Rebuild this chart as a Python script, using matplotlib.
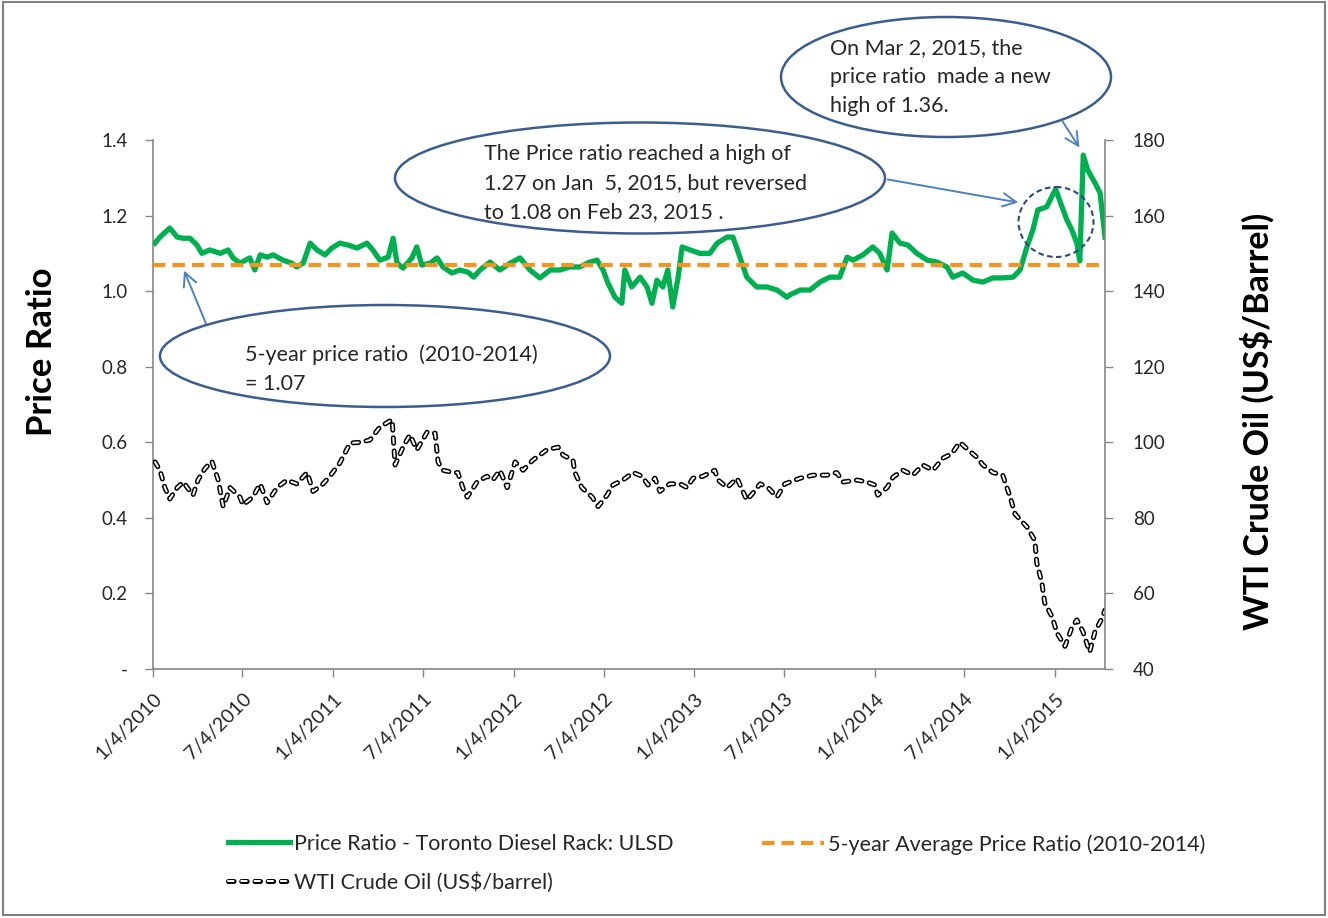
import pandas as pd
import matplotlib
matplotlib.use("Agg")
import matplotlib.pyplot as plt
from matplotlib.patches import Ellipse, Rectangle
from matplotlib.lines import Line2D

plt.rcParams['font.family'] = ['Lato', 'DejaVu Sans']
plt.rcParams['lines.scale_dashes'] = False

# price ratio (Toronto diesel rack / ULSD)
ratio_dates = [
    '2010-01-08', '2010-01-18', '2010-02-07', '2010-02-22', '2010-03-06', '2010-03-20',
    '2010-04-03', '2010-04-13', '2010-04-29', '2010-05-20', '2010-06-05', '2010-06-15',
    '2010-06-29', '2010-07-19', '2010-07-29', '2010-08-09', '2010-08-23', '2010-09-04',
    '2010-09-24', '2010-10-12', '2010-10-22', '2010-11-04', '2010-11-18', '2010-12-02',
    '2010-12-18', '2011-01-01', '2011-01-17', '2011-02-03', '2011-02-21', '2011-03-13',
    '2011-03-25', '2011-04-08', '2011-04-25', '2011-05-05', '2011-05-13', '2011-05-25',
    '2011-06-12', '2011-06-22', '2011-07-02', '2011-07-19', '2011-08-02', '2011-08-14',
    '2011-09-01', '2011-09-17', '2011-10-04', '2011-10-15', '2011-10-28', '2011-11-17',
    '2011-12-07', '2011-12-28', '2012-01-17', '2012-02-06', '2012-02-26', '2012-03-18',
    '2012-04-07', '2012-04-27', '2012-05-17', '2012-06-06', '2012-06-21', '2012-07-03',
    '2012-07-13', '2012-07-27', '2012-08-10', '2012-08-16', '2012-08-30', '2012-09-16',
    '2012-09-30', '2012-10-10', '2012-10-20', '2012-11-01', '2012-11-11', '2012-11-21',
    '2012-12-02', '2012-12-10', '2012-12-26', '2013-01-15', '2013-02-04', '2013-02-19',
    '2013-03-11', '2013-03-23', '2013-04-06', '2013-04-20', '2013-05-10', '2013-05-31',
    '2013-06-20', '2013-07-10', '2013-07-16', '2013-08-06', '2013-08-26', '2013-09-15',
    '2013-10-05', '2013-10-25', '2013-11-09', '2013-11-21', '2013-12-11', '2013-12-31',
    '2014-01-14', '2014-01-29', '2014-02-08', '2014-02-24', '2014-03-12', '2014-03-30',
    '2014-04-20', '2014-05-10', '2014-05-30', '2014-06-11', '2014-07-01', '2014-07-22',
    '2014-08-11', '2014-08-31', '2014-09-20', '2014-10-11', '2014-10-25', '2014-11-08',
    '2014-11-20', '2014-11-30', '2014-12-18', '2015-01-05', '2015-01-18', '2015-01-28',
    '2015-02-07', '2015-02-17', '2015-02-23', '2015-03-02', '2015-03-11', '2015-03-26',
    '2015-04-05', '2015-04-15']
ratio_vals = [
    1.127, 1.143, 1.167, 1.143, 1.140, 1.140,
    1.122, 1.100, 1.109, 1.100, 1.109, 1.088,
    1.074, 1.088, 1.056, 1.096, 1.090, 1.096,
    1.082, 1.074, 1.064, 1.074, 1.127, 1.109,
    1.096, 1.114, 1.127, 1.122, 1.114, 1.127,
    1.109, 1.082, 1.090, 1.140, 1.074, 1.061,
    1.088, 1.117, 1.069, 1.074, 1.088, 1.064,
    1.048, 1.056, 1.050, 1.037, 1.056, 1.077,
    1.056, 1.074, 1.088, 1.056, 1.035, 1.056,
    1.056, 1.064, 1.064, 1.077, 1.082, 1.056,
    1.021, 0.984, 0.968, 1.056, 1.011, 1.037,
    1.011, 0.968, 1.029, 1.011, 1.056, 0.958,
    1.037, 1.117, 1.109, 1.100, 1.100, 1.127,
    1.143, 1.143, 1.090, 1.037, 1.011, 1.011,
    1.003, 0.984, 0.990, 1.003, 1.003, 1.024,
    1.037, 1.037, 1.090, 1.082, 1.096, 1.117,
    1.100, 1.056, 1.154, 1.127, 1.122, 1.100,
    1.082, 1.077, 1.064, 1.037, 1.048, 1.029,
    1.024, 1.035, 1.035, 1.037, 1.056, 1.117,
    1.162, 1.215, 1.223, 1.270, 1.223, 1.188,
    1.162, 1.127, 1.080, 1.360, 1.320, 1.286,
    1.260, 1.143]

# WTI crude oil, US$/barrel
wti_dates = [
    '2010-01-08', '2010-01-18', '2010-01-28', '2010-02-07', '2010-02-22', '2010-03-06',
    '2010-03-26', '2010-04-05', '2010-04-19', '2010-05-03', '2010-05-16', '2010-05-26',
    '2010-06-09', '2010-06-29', '2010-07-05', '2010-07-25', '2010-08-09', '2010-08-23',
    '2010-09-12', '2010-10-02', '2010-10-22', '2010-11-12', '2010-11-24', '2010-12-12',
    '2010-12-28', '2011-01-17', '2011-02-07', '2011-02-27', '2011-03-19', '2011-04-08',
    '2011-05-03', '2011-05-09', '2011-05-25', '2011-06-08', '2011-06-22', '2011-07-13',
    '2011-07-29', '2011-08-04', '2011-08-14', '2011-09-03', '2011-09-13', '2011-09-23',
    '2011-10-02', '2011-10-22', '2011-11-11', '2011-11-23', '2011-12-07', '2011-12-22',
    '2012-01-07', '2012-01-23', '2012-02-12', '2012-03-11', '2012-04-03', '2012-04-13',
    '2012-05-03', '2012-05-07', '2012-05-21', '2012-06-11', '2012-06-23', '2012-07-11',
    '2012-07-23', '2012-08-12', '2012-09-02', '2012-09-20', '2012-10-02', '2012-10-16',
    '2012-10-26', '2012-11-15', '2012-12-06', '2012-12-20', '2013-01-01', '2013-01-21',
    '2013-02-14', '2013-02-21', '2013-03-11', '2013-03-31', '2013-04-20', '2013-05-02',
    '2013-05-17', '2013-06-02', '2013-06-20', '2013-07-06', '2013-08-06', '2013-09-01',
    '2013-09-29', '2013-10-19', '2013-11-01', '2013-11-29', '2013-12-19', '2014-01-04',
    '2014-01-10', '2014-01-29', '2014-02-10', '2014-03-02', '2014-03-22', '2014-04-11',
    '2014-05-02', '2014-05-22', '2014-06-09', '2014-06-25', '2014-07-12', '2014-07-30',
    '2014-08-11', '2014-08-31', '2014-09-20', '2014-10-05', '2014-10-15', '2014-11-08',
    '2014-11-24', '2014-11-28', '2014-12-08', '2014-12-14', '2014-12-29', '2015-01-08',
    '2015-01-24', '2015-02-07', '2015-02-17', '2015-03-01', '2015-03-15', '2015-03-26',
    '2015-04-09', '2015-04-15']
wti_vals = [
    94.8, 92.6, 88.0, 85.0, 88.0, 89.5,
    86.0, 90.0, 93.0, 95.0, 90.0, 83.0,
    88.0, 85.5, 83.4, 85.5, 89.0, 84.0,
    88.0, 90.0, 89.0, 92.0, 87.0, 88.7,
    91.0, 94.5, 99.8, 100.0, 100.6, 104.0,
    106.0, 94.0, 98.7, 102.0, 98.0, 102.7,
    102.4, 94.8, 92.6, 92.0, 92.0, 88.0,
    85.5, 89.5, 91.0, 90.0, 92.6, 88.0,
    94.8, 92.6, 95.3, 98.0, 98.7, 96.6,
    95.3, 92.0, 88.0, 85.5, 83.0, 86.0,
    88.7, 90.0, 92.0, 91.0, 88.7, 90.5,
    87.0, 89.0, 89.0, 88.0, 90.5, 91.0,
    92.6, 90.0, 88.0, 90.5, 84.7, 86.5,
    89.0, 88.0, 85.5, 89.0, 90.5, 91.3,
    91.3, 92.0, 89.5, 90.0, 89.5, 88.7,
    86.0, 88.0, 90.8, 92.6, 91.3, 94.0,
    92.6, 95.8, 97.0, 100.0, 98.0, 96.0,
    94.0, 92.0, 91.3, 85.5, 81.0, 77.6,
    74.0, 68.0, 63.0, 57.5, 53.8, 49.5,
    46.0, 51.0, 53.0, 50.0, 44.5, 50.0,
    53.4, 55.6]

avg_ratio = 1.07

ratio_ticks = [0, 0.2, 0.4, 0.6, 0.8, 1.0, 1.2, 1.4]
ratio_ticklabels = ['-', '0.2', '0.4', '0.6', '0.8', '1.0', '1.2', '1.4']
wti_ticks = [40, 60, 80, 100, 120, 140, 160, 180]
date_ticks = ['2010-01-04', '2010-07-04', '2011-01-04', '2011-07-04', '2012-01-04',
              '2012-07-04', '2013-01-04', '2013-07-04', '2014-01-04', '2014-07-04',
              '2015-01-04']
date_ticklabels = ['1/4/2010', '7/4/2010', '1/4/2011', '7/4/2011', '1/4/2012',
                   '7/4/2012', '1/4/2013', '7/4/2013', '1/4/2014', '7/4/2014',
                   '1/4/2015']

GREEN = '#00B050'
ORANGE = '#F7941D'
GRAY = '#868686'
TXT = '#262626'
ELL = '#3B5E8F'
ARR = '#4F81BD'

W, H = 1328, 918
fig = plt.figure(figsize=(W / 100, H / 100), dpi=100)
ax = fig.add_axes([153 / W, 1 - 669 / H, (1105 - 153) / W, (669 - 140) / H])
ax2 = ax.twinx()

rd = pd.to_datetime(ratio_dates)
wd = pd.to_datetime(wti_dates)
x0, x1 = pd.Timestamp('2010-01-04'), pd.Timestamp('2015-04-15')

ln_ratio, = ax.plot(rd, ratio_vals, color=GREEN, lw=3.8, solid_joinstyle='round', zorder=3)
ln_avg, = ax.plot([x0, x1], [avg_ratio, avg_ratio], color=ORANGE, lw=3, dashes=(9, 5), zorder=4)

wti_out, = ax2.plot(wd, wti_vals, color='black', lw=3.6, dashes=(4, 5.5),
                    dash_capstyle='round', solid_capstyle='round')
wti_in, = ax2.plot(wd, wti_vals, color='white', lw=1.4, dashes=(4, 5.5),
                   dash_capstyle='round')

ax.set_xlim(x0, x1)
ax.set_ylim(0, 1.4)
ax2.set_ylim(40, 180)
ax.set_yticks(ratio_ticks)
ax.set_yticklabels(ratio_ticklabels)
ax2.set_yticks(wti_ticks)
ax.set_xticks(pd.to_datetime(date_ticks))
ax.set_xticklabels(date_ticklabels, rotation=45, ha='right', rotation_mode='anchor')

for a in (ax, ax2):
    for s in a.spines.values():
        s.set_visible(False)
    a.tick_params(colors=GRAY, labelcolor=TXT, length=6, width=1, labelsize=13.5)
ax.tick_params(axis='x', labelsize=14)
ax.spines['left'].set_visible(True)
ax.spines['bottom'].set_visible(True)
ax2.spines['right'].set_visible(True)
for s in (ax.spines['left'], ax.spines['bottom'], ax2.spines['right']):
    s.set_color(GRAY)
    s.set_linewidth(1.2)
ax.tick_params(axis='y', pad=12)
ax.tick_params(axis='x', pad=9)
ax2.tick_params(axis='y', pad=14)

fig.text(42 / W, 1 - 352 / H, 'Price Ratio', rotation=90, ha='center', va='center',
         fontsize=25, fontweight='bold', color='black')
fig.text(1257 / W, 1 - 421 / H, 'WTI Crude Oil (US$/Barrel)', rotation=90, ha='center',
         va='center', fontsize=24.5, fontweight='bold', color='black')

# callouts drawn on a pixel overlay
ov = fig.add_axes([0, 0, 1, 1])
ov.set_xlim(0, W)
ov.set_ylim(H, 0)
ov.axis('off')

for cx, cy, ew, eh in [(946, 77, 330, 120), (640, 178, 490, 111), (385, 356, 450, 102)]:
    ov.add_patch(Ellipse((cx, cy), ew, eh, facecolor='white', edgecolor=ELL, lw=1.8))
ov.add_patch(Ellipse((1056, 222), 75, 70, fill=False, edgecolor='#2E4A7A', lw=1.5,
                     linestyle=(0, (4, 2.5))))

arrow_kw = dict(arrowstyle='->', color=ARR, lw=1.4, mutation_scale=24)
ov.annotate('', xy=(1081, 150), xytext=(1061, 119), arrowprops=arrow_kw)
ov.annotate('', xy=(1021, 203), xytext=(885, 179), arrowprops=arrow_kw)
ov.annotate('', xy=(183, 268), xytext=(207, 326), arrowprops=arrow_kw)

note_kw = dict(ha='left', va='center', fontsize=15.5, color=TXT, linespacing=1.58)
ov.text(830, 77, 'On Mar 2, 2015, the\nprice ratio  made a new\nhigh of 1.36.', **note_kw)
ov.text(484, 183, 'The Price ratio reached a high of\n1.27 on Jan  5, 2015, but reversed\nto 1.08 on Feb 23, 2015 .',
        **note_kw)
ov.text(245, 369, '5-year price ratio  (2010-2014)\n= 1.07', **note_kw)

# legend
h_wti = (Line2D([], [], color='black', lw=3.6, dashes=(4, 5.5), dash_capstyle='round'),
         Line2D([], [], color='white', lw=1.4, dashes=(4, 5.5), dash_capstyle='round'))
leg_kw = dict(frameon=False, fontsize=15.5, handlelength=2.9, handletextpad=0.15,
              borderpad=0, borderaxespad=0, labelspacing=0.85, labelcolor=TXT)
fig.legend([ln_ratio, h_wti], ['Price Ratio - Toronto Diesel Rack: ULSD', 'WTI Crude Oil (US$/barrel)'],
           loc='upper left', bbox_to_anchor=(228 / W, 1 - 834 / H), **leg_kw)
fig.legend([ln_avg], ['5-year Average Price Ratio (2010-2014)'],
           loc='upper left', bbox_to_anchor=(762 / W, 1 - 834 / H), **leg_kw)

fig.add_artist(Rectangle((0.002, 0.003), 0.996, 0.995, transform=fig.transFigure,
                         fill=False, edgecolor='#7F7F7F', lw=1.5))

fig.savefig('out.png', dpi=100)
